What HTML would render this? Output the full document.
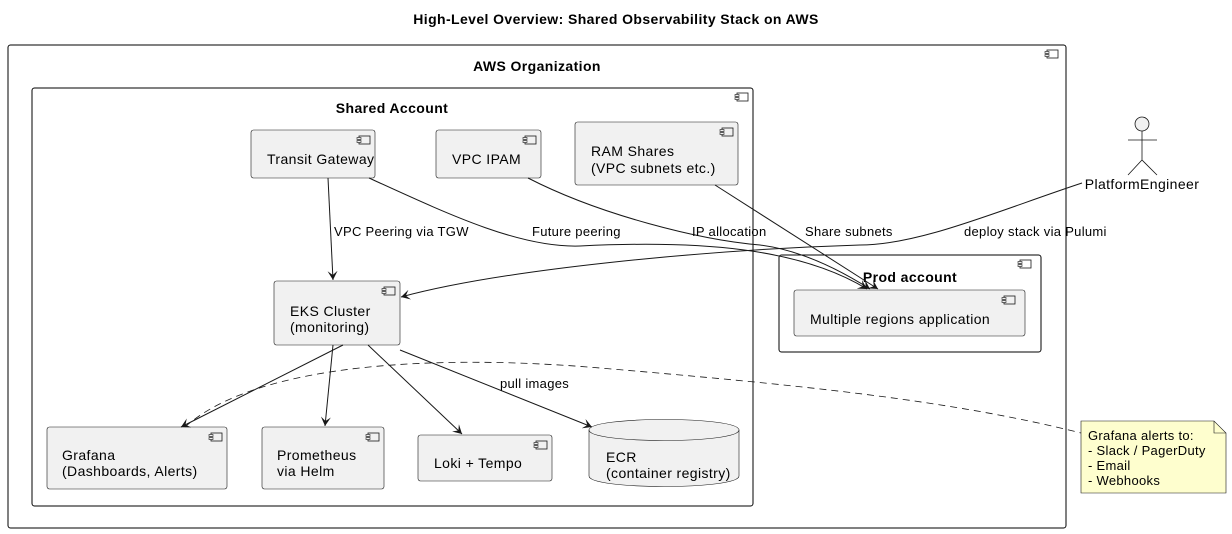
<!DOCTYPE html>
<html><head><meta charset="utf-8"><style>
html,body{margin:0;padding:0;background:#fff;}
svg{display:block;font-family:"Liberation Sans","DejaVu Sans",sans-serif;}
.n{fill:#f1f1f1;stroke:#181818;stroke-width:0.6;}
.t{font-size:14px;fill:#000;letter-spacing:0.4px;}
.e{font-size:13px;fill:#000;letter-spacing:0.3px;}
.b{font-weight:bold;}
.l{fill:none;stroke:#181818;stroke-width:1;}
</style></head><body>
<svg width="1232" height="534" viewBox="0 0 1232 534" xmlns="http://www.w3.org/2000/svg">
<defs>
<marker id="a" markerWidth="10" markerHeight="10" refX="9" refY="5" orient="auto" markerUnits="userSpaceOnUse">
<path d="M0,0 L9,5 L0,10 L4,5 Z" fill="#181818"/></marker>
<g id="ic"><rect x="0" y="0" width="11" height="8" fill="none" stroke="#181818" stroke-width="0.8"/><rect x="-2" y="1.5" width="4" height="2" fill="#f1f1f1" stroke="#181818" stroke-width="0.6"/><rect x="-2" y="4.5" width="4" height="2" fill="#f1f1f1" stroke="#181818" stroke-width="0.6"/></g>
</defs>
<text x="616" y="24" text-anchor="middle" class="t b">High-Level Overview: Shared Observability Stack on AWS</text>

<rect x="8" y="45" width="1058" height="483" rx="2.5" fill="none" stroke="#000" stroke-width="1"/>
<use href="#ic" x="1047" y="50"/>
<text x="537" y="71" text-anchor="middle" class="t b">AWS Organization</text>

<rect x="32" y="88" width="721" height="418" rx="2.5" fill="none" stroke="#000" stroke-width="1"/>
<use href="#ic" x="737" y="93"/>
<text x="392" y="113" text-anchor="middle" class="t b">Shared Account</text>

<rect x="779" y="255" width="262" height="97" rx="2.5" fill="none" stroke="#000" stroke-width="1"/>
<use href="#ic" x="1020" y="260"/>
<text x="910" y="282" text-anchor="middle" class="t b">Prod account</text>

<!-- nodes -->
<rect class="n" x="251" y="130" width="124" height="48" rx="2.5"/><use href="#ic" x="359" y="136"/>
<text x="267" y="164" class="t">Transit Gateway</text>
<rect class="n" x="436" y="130" width="105" height="48" rx="2.5"/><use href="#ic" x="525" y="136"/>
<text x="452" y="164" class="t">VPC IPAM</text>
<rect class="n" x="575" y="122" width="163" height="63" rx="2.5"/><use href="#ic" x="722" y="128"/>
<text x="591" y="156" class="t">RAM Shares</text><text x="591" y="173" class="t">(VPC subnets etc.)</text>
<rect class="n" x="274" y="281" width="126" height="64" rx="2.5"/><use href="#ic" x="384" y="287"/>
<text x="290" y="316" class="t">EKS Cluster</text><text x="290" y="332" class="t">(monitoring)</text>
<rect class="n" x="47" y="427" width="180" height="62" rx="2.5"/><use href="#ic" x="211" y="433"/>
<text x="62" y="460" class="t">Grafana</text><text x="62" y="476" class="t">(Dashboards, Alerts)</text>
<rect class="n" x="262" y="427" width="122" height="62" rx="2.5"/><use href="#ic" x="368" y="433"/>
<text x="277" y="460" class="t">Prometheus</text><text x="277" y="476" class="t">via Helm</text>
<rect class="n" x="418" y="435" width="134" height="46" rx="2.5"/><use href="#ic" x="536" y="441"/>
<text x="434" y="468" class="t">Loki + Tempo</text>
<path class="n" d="M589,430 C589,416 739,416 739,430 L739,476 C739,490 589,490 589,476 Z"/>
<path d="M589,430 C589,444 739,444 739,430" fill="none" stroke="#181818" stroke-width="0.6"/>
<text x="606" y="462" class="t">ECR</text><text x="606" y="478" class="t">(container registry)</text>
<rect class="n" x="794" y="290" width="231" height="46" rx="2.5"/><use href="#ic" x="1004" y="296"/>
<text x="810" y="324" class="t">Multiple regions application</text>

<!-- actor -->
<circle cx="1142" cy="124" r="7" fill="#f1f1f1" stroke="#181818" stroke-width="0.8"/>
<path d="M1142,131 L1142,160 M1128,140 L1157,140 M1128,175 L1142,160 L1157,175" fill="none" stroke="#181818" stroke-width="0.8"/>
<text x="1142" y="189" text-anchor="middle" class="t">PlatformEngineer</text>

<!-- note -->
<path d="M1081,421 L1214,421 L1226,433 L1226,493 L1081,493 Z" fill="#fefece" stroke="#181818" stroke-width="0.6"/>
<path d="M1214,421 L1214,433 L1226,433" fill="none" stroke="#181818" stroke-width="0.6"/>
<text x="1088" y="440" class="e">Grafana alerts to:</text>
<text x="1088" y="455" class="e">- Slack / PagerDuty</text>
<text x="1088" y="470" class="e">- Email</text>
<text x="1088" y="485" class="e">- Webhooks</text>

<!-- edges -->
<path class="l" d="M328,178 L333,280" marker-end="url(#a)"/>
<text x="334" y="236" class="e">VPC Peering via TGW</text>
<path class="l" d="M369,178 C450,215 520,248 580,246 C700,240 800,248 867,289" marker-end="url(#a)"/>
<text x="532" y="236" class="e">Future peering</text>
<path class="l" d="M528,178 C600,215 700,240 760,245 C800,250 840,270 870,289" marker-end="url(#a)"/>
<text x="692" y="236" class="e">IP allocation</text>
<path class="l" d="M715,185 L878,289" marker-end="url(#a)"/>
<text x="805" y="236" class="e">Share subnets</text>
<path class="l" d="M1082,183 C1000,210 920,245 860,245 C700,250 500,270 401,297" marker-end="url(#a)"/>
<text x="964" y="236" class="e">deploy stack via Pulumi</text>
<path class="l" d="M343,345 L181,427" marker-end="url(#a)"/>
<path class="l" d="M333,345 L325,426" marker-end="url(#a)"/>
<path class="l" d="M368,345 L462,434" marker-end="url(#a)"/>
<path class="l" d="M400,350 L592,427" marker-end="url(#a)"/>
<text x="500" y="388" class="e">pull images</text>
<path d="M185,427 C260,360 450,355 600,368 C800,385 950,400 1081,433" fill="none" stroke="#181818" stroke-width="0.8" stroke-dasharray="7,5"/>
</svg>
</body></html>
